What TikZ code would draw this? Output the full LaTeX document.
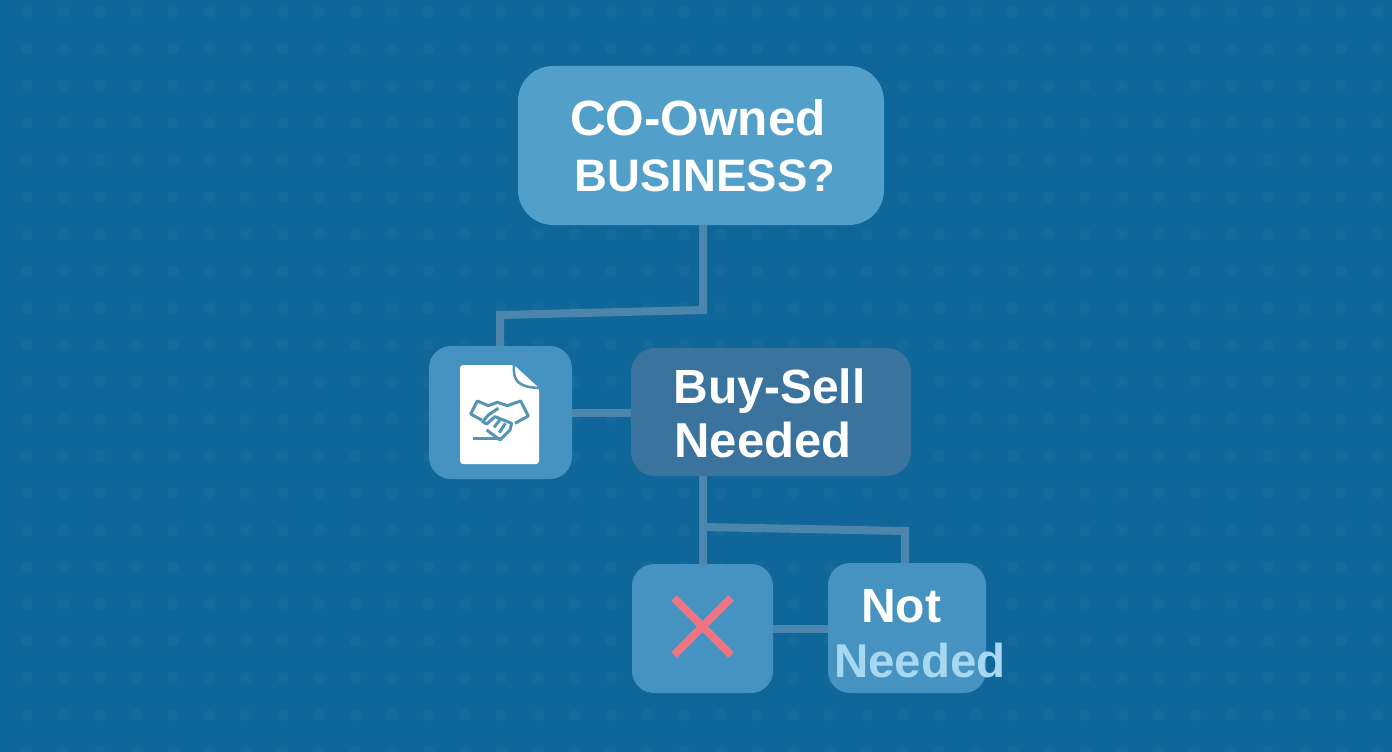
\documentclass[tikz,border=0pt]{standalone}
\usepackage{fontspec}
\setmainfont{Liberation Sans}
\usepackage{xcolor}
\usetikzlibrary{positioning}
\definecolor{bgblue}{HTML}{0F6698}
\definecolor{dotblue}{HTML}{136A9B}
\definecolor{topblue}{HTML}{52A0C9}
\definecolor{midblue}{HTML}{39739E}
\definecolor{boxblue}{HTML}{4693C1}
\definecolor{linkblue}{HTML}{4C86AC}
\definecolor{inkblue}{HTML}{5494B4}
\definecolor{crossred}{HTML}{F2737F}
\definecolor{paleblue}{HTML}{A6D8F2}
\tikzset{
  card/.style={rectangle,inner sep=0pt,fill=boxblue,rounded corners=22pt},
  link/.style={draw=linkblue,line width=8pt},
  label/.style={inner sep=0pt,font=\fontsize{46}{46}\bfseries\selectfont,text=white,anchor=base},
  ink/.style={draw=inkblue,line width=3pt,line join=round}
}
\begin{document}
\begin{tikzpicture}[x=1pt,y=-1pt]
\useasboundingbox[fill=bgblue] (0,0) rectangle (1392,752);
\foreach \i in {0,...,37}
  \foreach \j in {0,...,20}
    \fill[dotblue] (27+36.5*\i,12+37*\j) circle (6);

\node[card,fill=topblue,minimum width=366pt,minimum height=159pt,rounded corners=35pt] (topbox) at (701,145.5) {};
\node[card,minimum width=143pt,minimum height=133pt] (iconbox) at (500.5,412.5) {};
\node[card,fill=midblue,minimum width=280pt,minimum height=128pt,rounded corners=24pt] (sellbox) at (771,412) {};
\node[card,minimum width=141pt,minimum height=129pt] (crossbox) at (702.5,628.5) {};
\node[card,minimum width=158pt,minimum height=130pt] (notbox) at (907,628) {};

\coordinate (topbend) at (703,310);
\coordinate (iconbend) at (500,315);
\coordinate (sellfork) at (703,527);
\coordinate (notbend) at (905,531);
\draw[link] (topbox.south -| topbend) -- (topbend) -- (iconbend) -- (iconbend |- iconbox.north);
\draw[link] (iconbox.east) -- (sellbox.west |- iconbox.east);
\draw[link] (sellfork |- sellbox.south) -- (sellfork |- crossbox.north);
\draw[link] (sellfork) -- (notbend) -- (notbend |- notbox.north);
\draw[link] (crossbox.east) -- (notbox.west |- crossbox.east);

\node[label,font=\fontsize{49.5}{50}\bfseries\selectfont] (topline) at (698,135) {CO-Owned};
\node[label,font=\fontsize{45.5}{46}\bfseries\selectfont] (bottomline) at (705,191) {BUSINESS?};
\node[label,font=\fontsize{48}{48}\bfseries\selectfont] (buyline) at (769.5,403) {Buy-Sell};
\node[label,font=\fontsize{49}{49}\bfseries\selectfont] (needline) at (763,457) {Needed};
\node[label,font=\fontsize{48}{48}\bfseries\selectfont] (notline) at (901,622) {Not};
\node[label,text=paleblue,font=\fontsize{47.5}{48}\bfseries\selectfont] (paleline) at (920,677) {Needed};

\fill[white,rounded corners=3pt] (460,365) -- (514,365) -- (539,388) -- (539,464) -- (460,464) -- cycle;
\draw[ink,line width=2.5pt] (514,365) .. controls (513,380) and (517,387) .. (539,388);
\begin{scope}[shift={(420,340)},x=0.3333pt,y=-0.3333pt]
\draw[ink] (185,240) -- (152,222) -- (172,183) -- (205,197) -- (232,187) -- (262,197) -- (302,183) -- (325,228) -- (285,250);
\draw[ink] (235,205) -- (205,225) -- (188,245) -- (200,252) -- (225,230) -- (275,250) -- (270,270) -- (240,300) -- (200,270);
\draw[ink] (222,262) -- (240,240);
\draw[ink] (238,278) -- (256,250);
\draw[ink] (160,295) -- (240,295);
\end{scope}

\draw[crossred,line width=8pt] (674,598) -- (731,655);
\draw[crossred,line width=8pt] (731,598) -- (674,655);
\end{tikzpicture}
\end{document}
